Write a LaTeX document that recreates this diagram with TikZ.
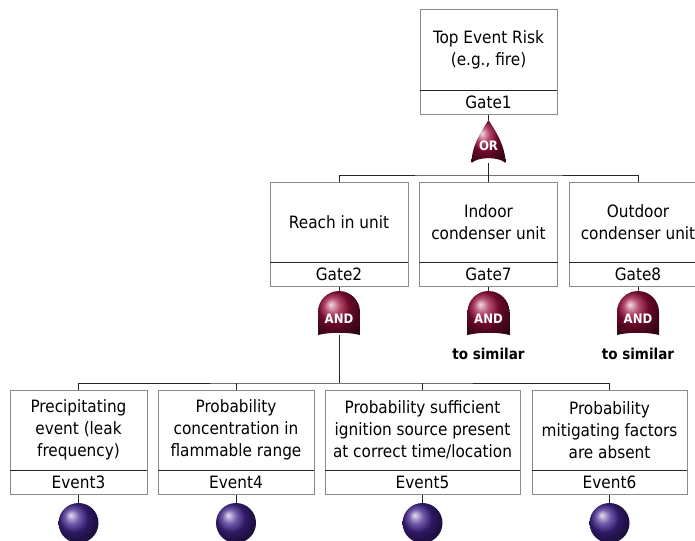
\documentclass[tikz,border=0pt]{standalone}
\usepackage{fontspec}
\setmainfont{DejaVu Sans Condensed}
\usepackage{xcolor}
\usetikzlibrary{positioning,calc,backgrounds}
\definecolor{boxline}{HTML}{8A8A8A}
\definecolor{gatered}{HTML}{9C0F3C}
\definecolor{evpurple}{HTML}{43238F}
\tikzset{
  evbox/.style={draw=boxline,fill=white,align=center,minimum height=80pt,inner sep=1pt,font=\fontsize{17}{22}\selectfont},
  idbox/.style={draw=boxline,fill=white,align=center,minimum height=24pt,inner sep=0pt,anchor=north,font=\fontsize{17}{22}\selectfont},
  divider/.style={draw=black!85,line width=0.8pt},
  orgate/.style={minimum width=34pt,minimum height=43pt,inner sep=0pt,text=white,text height=17pt,text depth=0pt,font=\bfseries\fontsize{13}{13}\selectfont,
    path picture={\coordinate (pc) at (path picture bounding box.center);
      \shade[ball color=gatered]
      ($(pc)+(0pt,21.5pt)$) .. controls ($(pc)+(6pt,12pt)$) and ($(pc)+(17pt,-4pt)$) .. ($(pc)+(17pt,-21.5pt)$)
      .. controls ($(pc)+(10pt,-15pt)$) and ($(pc)+(-10pt,-15pt)$) .. ($(pc)+(-17pt,-21.5pt)$)
      .. controls ($(pc)+(-17pt,-4pt)$) and ($(pc)+(-6pt,12pt)$) .. ($(pc)+(0pt,21.5pt)$) -- cycle;}},
  andgate/.style={minimum width=42pt,minimum height=44pt,inner sep=0pt,text=white,text height=20pt,text depth=0pt,font=\bfseries\fontsize{13}{13}\selectfont,
    path picture={\coordinate (pc) at (path picture bounding box.center);
      \shade[ball color=gatered]
      ($(pc)+(-21pt,-22pt)$) -- ($(pc)+(-21pt,1pt)$) arc[start angle=180,end angle=0,radius=21pt] -- ($(pc)+(21pt,-22pt)$)
      .. controls ($(pc)+(10pt,-19pt)$) and ($(pc)+(-10pt,-19pt)$) .. ($(pc)+(-21pt,-22pt)$) -- cycle;}},
  basic/.style={circle,minimum size=40pt,inner sep=0pt,shade,ball color=evpurple},
  link/.style={draw=black!85,line width=0.8pt},
  simnote/.style={font=\bfseries\fontsize{15}{15}\selectfont}
}

\begin{document}
\begin{tikzpicture}[x=1pt,y=-1pt]
  \useasboundingbox (0,0) rectangle (695,540);
  \clip (0,0) rectangle (695,540);

  % top event
  \node (top) [evbox,minimum width=137pt,minimum height=81pt] at (488.5,49.5) {Top Event Risk\\(e.g., fire)};
  \node (g1) [idbox,minimum width=137pt] at (top.south) {Gate1};
  \node (or1) [orgate] at (488.5,141.5) {OR};

  % second level
  \node (reach) [evbox,minimum width=138pt] at (339,222) {Reach in unit};
  \node (g2) [idbox,minimum width=138pt] at (reach.south) {Gate2};
  \node (indoor) [evbox,minimum width=138pt] at (488.5,222) {Indoor\\condenser unit};
  \node (g7) [idbox,minimum width=138pt] at (indoor.south) {Gate7};
  \node (outdoor) [evbox,minimum width=138pt] at (638,222) {Outdoor\\condenser unit};
  \node (g8) [idbox,minimum width=138pt] at (outdoor.south) {Gate8};

  \node (and2) [andgate] at (339,313) {AND};
  \node (and7) [andgate] at (488.5,313) {AND};
  \node (and8) [andgate] at (638,313) {AND};
  \node (sim7) [simnote] at (488.5,354) {to similar};
  \node (sim8) [simnote] at (638,354) {to similar};

  % basic events
  \node (ev3) [evbox,minimum width=137pt] at (78.5,430) {Precipitating\\event (leak\\frequency)};
  \node (id3) [idbox,minimum width=137pt] at (ev3.south) {Event3};
  \node (ev4) [evbox,minimum width=156pt] at (236,430) {Probability\\concentration in\\flammable range};
  \node (id4) [idbox,minimum width=156pt] at (ev4.south) {Event4};
  \node (ev5) [evbox,minimum width=195pt] at (422.5,430) {Probability sufficient\\ignition source present\\at correct time/location};
  \node (id5) [idbox,minimum width=195pt] at (ev5.south) {Event5};
  \node (ev6) [evbox,minimum width=155pt] at (609.5,430) {Probability\\mitigating factors\\are absent};
  \node (id6) [idbox,minimum width=155pt] at (ev6.south) {Event6};

  \node (b3) [basic] at (78.5,523) {};
  \node (b4) [basic] at (236,523) {};
  \node (b5) [basic] at (422.5,523) {};
  \node (b6) [basic] at (609.5,523) {};

  \foreach \n in {g1,g2,g7,g8,id3,id4,id5,id6}
    \draw[divider] (\n.north west) -- (\n.north east);

  \begin{scope}[on background layer]
    \coordinate (bus1) at (488.5,175);
    \coordinate (bus2) at (339,383);
    \draw[link] (g1) -- (or1);
    \draw[link] (or1) -- (bus1);
    \draw[link] (reach.north) |- (bus1) -| (outdoor.north);
    \draw[link] (bus1) -- (indoor.north);
    \draw[link] (g2) -- (and2);
    \draw[link] (g7) -- (and7);
    \draw[link] (g8) -- (and8);
    \draw[link] (and2) -- (bus2);
    \draw[link] (ev3.north) |- (bus2) -| (ev6.north);
    \draw[link] (ev4.north) -- (ev4.north |- bus2);
    \draw[link] (ev5.north) -- (ev5.north |- bus2);
    \foreach \i in {3,4,5,6}
      \draw[link] (id\i) -- (b\i);
  \end{scope}
\end{tikzpicture}
\end{document}
